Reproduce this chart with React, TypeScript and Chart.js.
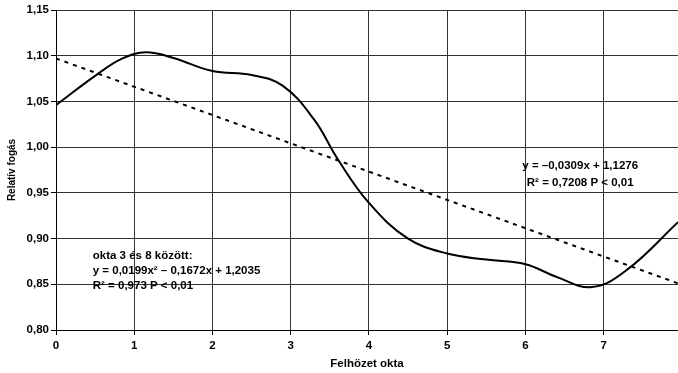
import React, { useEffect, useRef } from "react";
import { Chart, registerables } from "chart.js";

Chart.register(...registerables);

const CURVE_X = [0, 0.5, 0.85, 1.15, 1.5, 2.0, 2.5, 2.9, 3.3, 3.6, 4.0, 4.5, 5.0, 5.5, 6.0, 6.4, 6.85, 7.3, 7.95, 8.3];
const CURVE_Y = [1.046, 1.078, 1.097, 1.1037, 1.0975, 1.0833, 1.079, 1.067, 1.03, 0.987, 0.939, 0.9, 0.8836, 0.877, 0.872, 0.858, 0.847, 0.866, 0.918, 0.946];
const TREND_X = [0, 7.95];
const TREND_Y = [1.097, 0.851];
const X_TICKS = [0, 1, 2, 3, 4, 5, 6, 7];
const Y_TICKS = [0.8, 0.85, 0.9, 0.95, 1.0, 1.05, 1.1, 1.15];
const X_TITLE = "Felhözet okta";
const Y_TITLE = "Relatív fogás";
const RIGHT_NOTE = ["y = –0,0309x + 1,1276", "R² = 0,7208 P < 0,01"];
const LEFT_NOTE = ["okta 3 és 8 között:", "y = 0,0199x² – 0,1672x + 1,2035", "R² = 0,973 P < 0,01"];

const FONT = "'Liberation Sans', Arial, Helvetica, sans-serif";

const notesPlugin = {
  id: "notes",
  afterDatasetsDraw(chart: any) {
    const { ctx, scales } = chart;
    ctx.save();
    ctx.fillStyle = "#000";
    ctx.font = `bold 11.5px ${FONT}`;
    ctx.textBaseline = "middle";
    ctx.textAlign = "center";
    const rx = scales.x.getPixelForValue(6.7);
    const ry = scales.y.getPixelForValue(0.9793);
    RIGHT_NOTE.forEach((t, i) => ctx.fillText(t, rx, ry + i * 16.5));
    ctx.textAlign = "left";
    const lx = scales.x.getPixelForValue(0.47);
    const ly = scales.y.getPixelForValue(0.881);
    LEFT_NOTE.forEach((t, i) => ctx.fillText(t, lx, ly + i * 15));
    ctx.restore();
  },
};

export default function App() {
  const ref = useRef<HTMLCanvasElement | null>(null);
  useEffect(() => {
    if (!ref.current) return;
    const chart = new Chart(ref.current, {
      type: "line",
      data: {
        datasets: [
          {
            data: CURVE_X.map((x, i) => ({ x, y: CURVE_Y[i] })),
            borderColor: "#000",
            borderWidth: 2,
            pointRadius: 0,
            tension: 0.4,
            fill: false,
          },
          {
            data: TREND_X.map((x, i) => ({ x, y: TREND_Y[i] })),
            borderColor: "#000",
            borderWidth: 2,
            borderDash: [4, 5],
            pointRadius: 0,
            tension: 0,
            fill: false,
          },
        ],
      },
      options: {
        responsive: false,
        animation: false,
        layout: { padding: { top: 10, right: 0, left: 0, bottom: 0 } },
        plugins: { legend: { display: false }, tooltip: { enabled: false } },
        scales: {
          x: {
            type: "linear",
            min: 0,
            max: 7.95,
            afterBuildTicks: (s: any) => {
              s.ticks = X_TICKS.map((v) => ({ value: v }));
            },
            afterFit: (s: any) => {
              s.height = 43;
            },
            grid: { color: "#333", lineWidth: 1, tickLength: 5, tickColor: "#000" },
            border: { color: "#000", width: 1 },
            ticks: {
              color: "#000",
              padding: 4,
              maxRotation: 0,
              font: { family: FONT, size: 11.5, weight: "bold" },
              callback: (v: any) => String(v),
            },
            title: {
              display: true,
              text: X_TITLE,
              color: "#000",
              padding: { top: 0, bottom: 2 },
              font: { family: FONT, size: 11.5, weight: "bold" },
            },
          },
          y: {
            type: "linear",
            min: 0.8,
            max: 1.15,
            afterBuildTicks: (s: any) => {
              s.ticks = Y_TICKS.map((v) => ({ value: v }));
            },
            afterFit: (s: any) => {
              s.width = 56;
            },
            grid: { color: "#333", lineWidth: 1, tickLength: 5, tickColor: "#000" },
            border: { color: "#000", width: 1 },
            ticks: {
              color: "#000",
              padding: 2,
              font: { family: FONT, size: 11.5, weight: "bold" },
              callback: (v: any) => Number(v).toFixed(2).replace(".", ","),
            },
            title: {
              display: true,
              text: Y_TITLE,
              color: "#000",
              padding: { top: 6, bottom: 0 },
              font: { family: FONT, size: 10, weight: "bold" },
            },
          },
        },
      },
      plugins: [notesPlugin],
    } as any);
    return () => chart.destroy();
  }, []);
  return (
    <div style={{ position: "fixed", left: 0, top: 0, width: 678, height: 373, background: "#fff" }}>
      <canvas ref={ref} width={678} height={373} style={{ display: "block" }} />
    </div>
  );
}
